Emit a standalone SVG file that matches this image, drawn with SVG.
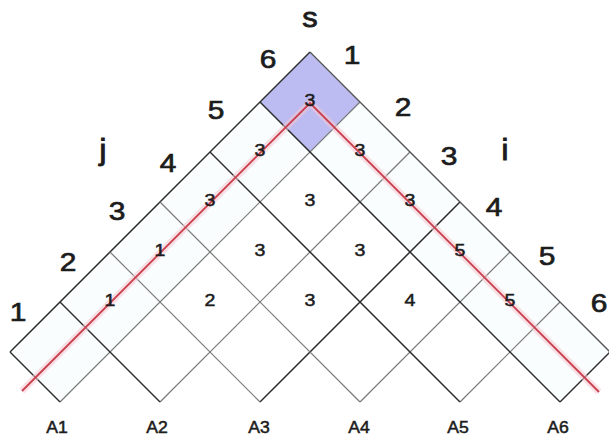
<svg xmlns="http://www.w3.org/2000/svg" width="609" height="437" viewBox="0 0 609 437">
<style>
.dk{stroke:#2e2e2e;stroke-width:1.5;fill:none}
.gy{stroke:#7a7a7a;stroke-width:1.2;fill:none}
.md{stroke:#555;stroke-width:1.3;fill:none}
text{font-family:"Liberation Sans",Arial,sans-serif;fill:#1c1c1c;stroke:#1c1c1c;text-anchor:middle}
.lab{font-size:26px;stroke-width:0.7}
.num{font-size:17px;stroke-width:0.5}
.alab{font-size:16px;stroke-width:0.5}
.var{font-size:30px;stroke-width:0.8}
.s{font-size:28px;stroke-width:0.8}
</style>
<rect width="609" height="437" fill="#ffffff"/>
<g id="tints" fill="#f9fdfd">
<polygon points="260,102 310,152 260,202 210,152"/>
<polygon points="210,152 260,202 210,252 160,202"/>
<polygon points="160,202 210,252 160,302 110,252"/>
<polygon points="110,252 160,302 110,352 60,302"/>
<polygon points="60,302 110,352 60,402 10,352"/>
<polygon points="360,102 410,152 360,202 310,152"/>
<polygon points="410,152 460,202 410,252 360,202"/>
<polygon points="460,202 510,252 460,302 410,252"/>
<polygon points="510,252 560,302 510,352 460,302"/>
<polygon points="560,302 610,352 560,402 510,352"/>
</g>
<g id="cell-s">
<polygon points="310,52 360,102 310,152 260,102" fill="#bcbcf2"/>
</g>
<g id="connectors">
<line class="dk" x1="310" y1="52" x2="10" y2="352"/>
<line class="gy" x1="360" y1="102" x2="60" y2="402"/>
<line class="gy" x1="410" y1="152" x2="160" y2="402"/>
<line class="dk" x1="460" y1="202" x2="260" y2="402"/>
<line class="gy" x1="510" y1="252" x2="360" y2="402"/>
<line class="gy" x1="560" y1="302" x2="460" y2="402"/>
<line class="dk" x1="610" y1="352" x2="560" y2="402"/>
<line class="md" x1="310" y1="52" x2="610" y2="352"/>
<line class="dk" x1="260" y1="102" x2="560" y2="402"/>
<line class="dk" x1="210" y1="152" x2="460" y2="402"/>
<line class="gy" x1="160" y1="202" x2="360" y2="402"/>
<line class="gy" x1="110" y1="252" x2="260" y2="402"/>
<line class="dk" x1="60" y1="302" x2="160" y2="402"/>
<line class="dk" x1="10" y1="352" x2="60" y2="402"/>
</g>
<g id="path">
<polyline points="22,391 310,103 599,392" fill="none" stroke="#f7c6cf" stroke-width="7" stroke-opacity="0.55"/>
<polyline points="22,391 310,103 599,392" fill="none" stroke="#c8404f" stroke-width="1.8"/>
</g>
<g id="cells">
<text class="num" transform="translate(310,106) scale(1.15,1)">3</text>
<text class="num" transform="translate(260,156) scale(1.15,1)">3</text>
<text class="num" transform="translate(360,156) scale(1.15,1)">3</text>
<text class="num" transform="translate(210,206) scale(1.15,1)">3</text>
<text class="num" transform="translate(310,206) scale(1.15,1)">3</text>
<text class="num" transform="translate(410,206) scale(1.15,1)">3</text>
<text class="num" transform="translate(160,256) scale(1.15,1)">1</text>
<text class="num" transform="translate(260,256) scale(1.15,1)">3</text>
<text class="num" transform="translate(360,256) scale(1.15,1)">3</text>
<text class="num" transform="translate(460,256) scale(1.15,1)">5</text>
<text class="num" transform="translate(110,306) scale(1.15,1)">1</text>
<text class="num" transform="translate(210,306) scale(1.15,1)">2</text>
<text class="num" transform="translate(310,306) scale(1.15,1)">3</text>
<text class="num" transform="translate(410,306) scale(1.15,1)">4</text>
<text class="num" transform="translate(510,306) scale(1.15,1)">5</text>
</g>
<g id="j-labels">
<text class="lab" transform="translate(18,321) scale(1.15,1)">1</text>
<text class="lab" transform="translate(68,271) scale(1.15,1)">2</text>
<text class="lab" transform="translate(117,220) scale(1.15,1)">3</text>
<text class="lab" transform="translate(168,172) scale(1.15,1)">4</text>
<text class="lab" transform="translate(216,119) scale(1.15,1)">5</text>
<text class="lab" transform="translate(268,68) scale(1.15,1)">6</text>
<text class="var" transform="translate(103,160) scale(1.1,1)">j</text>
</g>
<g id="i-labels">
<text class="lab" transform="translate(352,64) scale(1.15,1)">1</text>
<text class="lab" transform="translate(403,116) scale(1.15,1)">2</text>
<text class="lab" transform="translate(449,165) scale(1.15,1)">3</text>
<text class="lab" transform="translate(494,216) scale(1.15,1)">4</text>
<text class="lab" transform="translate(547,265) scale(1.15,1)">5</text>
<text class="lab" transform="translate(599,312) scale(1.15,1)">6</text>
<text class="var" transform="translate(505,160) scale(1.1,1)">i</text>
</g>
<g id="s-label">
<text class="s" transform="translate(310,27) scale(1.1,1)">s</text>
</g>
<g id="a-labels">
<text class="alab" transform="translate(57,433) scale(1.1,1)">A1</text>
<text class="alab" transform="translate(157,433) scale(1.1,1)">A2</text>
<text class="alab" transform="translate(259,433) scale(1.1,1)">A3</text>
<text class="alab" transform="translate(359,433) scale(1.1,1)">A4</text>
<text class="alab" transform="translate(458,433) scale(1.1,1)">A5</text>
<text class="alab" transform="translate(558,433) scale(1.1,1)">A6</text>
</g>
</svg>
